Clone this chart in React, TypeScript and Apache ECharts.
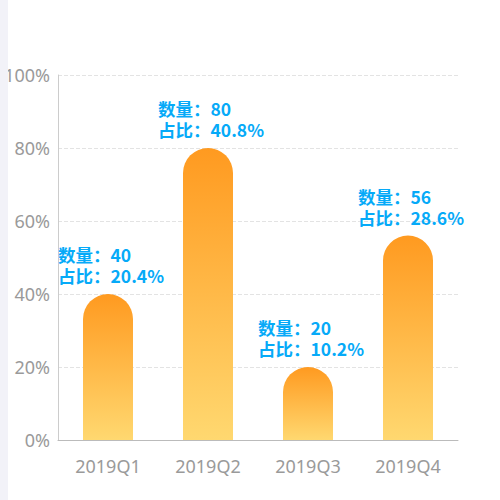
import { useEffect, useRef } from "react";
import * as echarts from "echarts";

const CATEGORIES = ["2019Q1", "2019Q2", "2019Q3", "2019Q4"];
const COUNTS = [40, 80, 20, 56];
const Y_TICKS = [0, 20, 40, 60, 80, 100];

const TOTAL = COUNTS.reduce((a, b) => a + b, 0);

export default function App() {
  const chartRef = useRef<HTMLDivElement>(null);

  useEffect(() => {
    document.body.style.margin = "0";
    if (!chartRef.current) return;
    const chart = echarts.init(chartRef.current, undefined, { renderer: "svg" });

    chart.setOption({
      animation: false,
      backgroundColor: "#fff",
      grid: { left: 58, right: 42, top: 75, bottom: 60 },
      xAxis: {
        type: "category",
        data: CATEGORIES,
        axisTick: { show: false },
        axisLine: { lineStyle: { color: "#bbb" } },
        axisLabel: {
          color: "#9a9a9a",
          fontSize: 18,
          margin: 17,
          fontFamily: "Noto Sans, sans-serif",
        },
      },
      yAxis: {
        type: "value",
        min: Y_TICKS[0],
        max: Y_TICKS[Y_TICKS.length - 1],
        interval: 20,
        axisLine: { show: true, lineStyle: { color: "#ccc" } },
        axisTick: { show: false },
        splitLine: { lineStyle: { color: "#e3e3e3", type: "dashed" } },
        axisLabel: {
          color: "#9a9a9a",
          fontSize: 18,
          margin: 8,
          formatter: "{value}%",
          fontFamily: "Noto Sans, sans-serif",
        },
      },
      series: [
        {
          type: "bar",
          data: COUNTS,
          barWidth: 50,
          itemStyle: {
            borderRadius: [25, 25, 0, 0],
            color: new echarts.graphic.LinearGradient(0, 0, 0, 1, [
              { offset: 0, color: "#ff9a20" },
              { offset: 1, color: "#ffd870" },
            ]),
          },
          label: {
            show: true,
            position: "top",
            align: "left",
            offset: [-50, 0],
            distance: 8,
            color: "#06aaf8",
            fontSize: 17.5,
            fontWeight: "bold",
            lineHeight: 21,
            fontFamily: "Noto Sans CJK SC, sans-serif",
            formatter: (p: { value: number }) =>
              `数量：${p.value}\n占比：${((p.value / TOTAL) * 100).toFixed(1)}%`,
          },
        },
      ],
    });

    return () => chart.dispose();
  }, []);

  return (
    <div style={{ position: "relative", width: 500, height: 500 }}>
      <div ref={chartRef} style={{ width: 500, height: 500 }} />
      <div
        style={{
          position: "absolute",
          left: 0,
          top: 0,
          width: 8,
          height: 500,
          background: "#f2f2f8",
        }}
      />
    </div>
  );
}
